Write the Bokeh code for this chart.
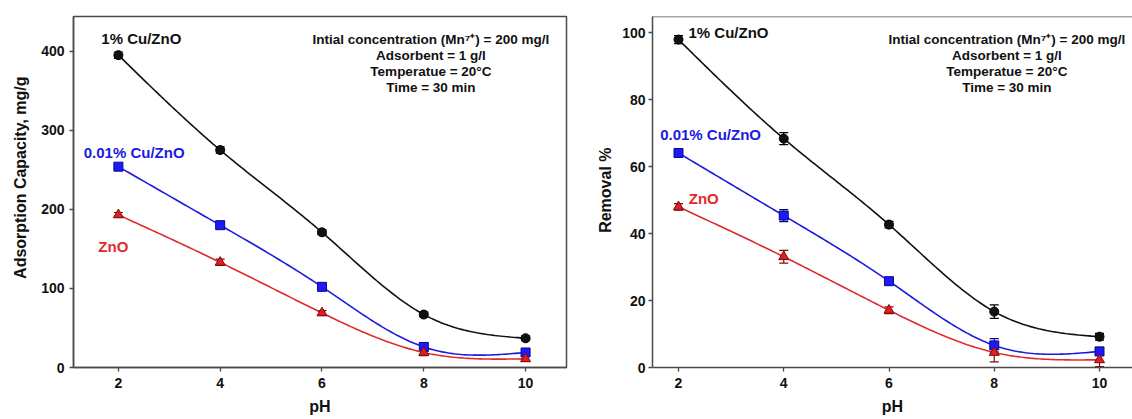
import numpy as np
from bokeh.plotting import figure
from bokeh.models import Whisker, TeeHead, ColumnDataSource, FixedTicker, Label, Span, Title
from bokeh.layouts import row
from bokeh.embed import file_html
from bokeh.resources import INLINE

# ---------------- data ----------------
ph = [2, 4, 6, 8, 10]
x_ticks = [2, 4, 6, 8, 10]
cap_ticks = [0, 100, 200, 300, 400]
rem_ticks = [0, 20, 40, 60, 80, 100]

series_names = ["1% Cu/ZnO", "0.01% Cu/ZnO", "ZnO"]

cap_cu1 = [395, 275, 171, 67, 37]
cap_cu001 = [254, 180, 102, 26, 19]
cap_zno = [193, 133, 69, 19, 11]
cap_err_cu1 = [4, 4, 3, 3, 3]
cap_err_cu001 = [4, 4, 4, 5, 4]
cap_err_zno = [3, 4, 3, 4, 3]

rem_cu1 = [98.0, 68.4, 42.7, 16.7, 9.2]
rem_cu001 = [64.1, 45.4, 25.8, 6.6, 4.8]
rem_zno = [48.0, 33.1, 17.1, 4.5, 2.3]
rem_err_cu1 = [1.2, 1.8, 1.0, 2.0, 1.0]
rem_err_cu001 = [1.0, 1.8, 1.0, 2.0, 1.2]
rem_err_zno = [1.0, 1.9, 1.0, 2.8, 2.0]

condition_lines = [
    "Intial concentration (Mn\u2077\u207a) = 200 mg/l",
    "Adsorbent = 1 g/l",
    "Temperatue = 20\u00b0C",
    "Time = 30 min",
]
left_ylabel = "Adsorption Capacity, mg/g"
right_ylabel = "Removal %"
x_label = "pH"

FONT = "Liberation Sans"
AX = "#4a4a4a"
styles = [
    dict(marker="circle", fill="#111111", line="#000000", curve="#111111", size=9, text="#111111"),
    dict(marker="square", fill="#1a1aff", line="#0a0a80", curve="#1a1ae0", size=9, text="#1a1ae0"),
    dict(marker="triangle", fill="#e02020", line="#7a0a0a", curve="#e02a2a", size=10, text="#e02a2a"),
]


def natural_spline(xs, ys, n=160):
    x = np.asarray(xs, float)
    y = np.asarray(ys, float)
    m = len(x)
    h = np.diff(x)
    A = np.zeros((m, m))
    b = np.zeros(m)
    A[0, 0] = A[-1, -1] = 1.0
    for i in range(1, m - 1):
        A[i, i - 1] = h[i - 1]
        A[i, i] = 2 * (h[i - 1] + h[i])
        A[i, i + 1] = h[i]
        b[i] = 6 * ((y[i + 1] - y[i]) / h[i] - (y[i] - y[i - 1]) / h[i - 1])
    M = np.linalg.solve(A, b)
    xx = np.linspace(x[0], x[-1], n)
    idx = np.clip(np.searchsorted(x, xx) - 1, 0, m - 2)
    x0, x1 = x[idx], x[idx + 1]
    hh = x1 - x0
    t0, t1 = x1 - xx, xx - x0
    yy = (M[idx] * t0 ** 3 / (6 * hh) + M[idx + 1] * t1 ** 3 / (6 * hh)
          + (y[idx] / hh - M[idx] * hh / 6) * t0 + (y[idx + 1] / hh - M[idx + 1] * hh / 6) * t1)
    return xx, yy


def make_fig(width, xr, yr, yticks, mbl, mbr, mbt, mbb, ytick_standoff):
    p = figure(width=width, height=419, x_range=xr, y_range=yr,
               output_backend="svg", toolbar_location=None,
               min_border_left=mbl, min_border_right=mbr,
               min_border_top=mbt, min_border_bottom=mbb)
    p.xgrid.visible = False
    p.ygrid.visible = False
    p.background_fill_color = "white"
    p.border_fill_color = "white"
    for ax in (p.xaxis, p.yaxis):
        ax.axis_line_color = AX
        ax.axis_line_width = 1.5
        ax.major_tick_line_color = AX
        ax.major_tick_line_width = 1.3
        ax.major_tick_in = 0
        ax.major_tick_out = 4
        ax.minor_tick_line_color = None
        ax.major_label_text_font = FONT
        ax.major_label_text_font_style = "bold"
        ax.major_label_text_font_size = "14px"
        ax.major_label_text_color = "#111111"
        ax.axis_label_text_font = FONT
        ax.axis_label_text_font_style = "bold"
        ax.axis_label_text_font_size = "16px"
        ax.axis_label_text_color = "#111111"
    p.xaxis.ticker = FixedTicker(ticks=x_ticks)
    p.yaxis.ticker = FixedTicker(ticks=yticks)
    p.xaxis.axis_label = x_label
    p.xaxis.major_label_standoff = 6
    p.xaxis.axis_label_standoff = 7
    p.yaxis.major_label_standoff = ytick_standoff
    return p


def draw_series(p, ys, errs, st):
    xx, yy = natural_spline(ph, ys)
    p.line(xx, yy, line_color=st["curve"], line_width=1.6)
    src = ColumnDataSource(dict(x=ph, y=ys,
                                upper=[v + e for v, e in zip(ys, errs)],
                                lower=[v - e for v, e in zip(ys, errs)]))
    w = Whisker(source=src, base="x", upper="upper", lower="lower",
                line_color=st["line"], line_width=1.2,
                upper_head=TeeHead(size=9, line_color=st["line"], line_width=1.2),
                lower_head=TeeHead(size=9, line_color=st["line"], line_width=1.2))
    p.add_layout(w)
    p.scatter("x", "y", source=src, marker=st["marker"], size=st["size"],
              fill_color=st["fill"], line_color=st["line"], line_width=1)


def add_text(p, x, y, text, color, size="15px"):
    p.add_layout(Label(x=x, y=y, text=text, text_font=FONT, text_font_style="bold",
                       text_font_size=size, text_color=color,
                       text_align="center", text_baseline="middle"))


def add_ylabel(p, text, offset, standoff):
    p.add_layout(Title(text=text, align="right", offset=offset, standoff=standoff,
                       text_font=FONT, text_font_style="bold", text_font_size="16px",
                       text_color="#111111"), "left")


# ---------------- left panel ----------------
p1 = make_fig(572, (1.118, 10.804), (0, 443.9), cap_ticks, 72, 6, 13, 52, 5)
p1.outline_line_color = AX
p1.outline_line_width = 1.5
p1.outline_line_alpha = 1.0
for ys, errs, st in zip([cap_cu1, cap_cu001, cap_zno],
                        [cap_err_cu1, cap_err_cu001, cap_err_zno], styles):
    draw_series(p1, ys, errs, st)
add_text(p1, 2.45, 416, series_names[0], styles[0]["text"])
add_text(p1, 2.31, 272, series_names[1], styles[1]["text"])
add_text(p1, 1.90, 153, series_names[2], styles[2]["text"])
for line, yv in zip(condition_lines, [415, 394, 374, 354]):
    add_text(p1, 8.14, yv, line, "#111111", "13.5px")
add_ylabel(p1, left_ylabel, 60, 19)

# ---------------- right panel ----------------
p2 = make_fig(560, (1.506, 10.627), (0, 104.9), rem_ticks, 80, 0, 16, 51, 3)
p2.outline_line_color = None
p2.add_layout(Span(location=104.9, dimension="width", line_color=AX, line_width=1.5))
for ys, errs, st in zip([rem_cu1, rem_cu001, rem_zno],
                        [rem_err_cu1, rem_err_cu001, rem_err_zno], styles):
    draw_series(p2, ys, errs, st)
add_text(p2, 2.95, 100, series_names[0], styles[0]["text"])
add_text(p2, 2.61, 69.6, series_names[1], styles[1]["text"])
add_text(p2, 2.48, 50.4, series_names[2], styles[2]["text"])
for line, yv in zip(condition_lines, [97.9, 93.1, 88.4, 83.6]):
    add_text(p2, 8.24, yv, line, "#111111", "13.5px")
add_ylabel(p2, right_ylabel, 131, 11)

layout = row(p1, p2)
open("out.html", "w").write(file_html(layout, INLINE))
